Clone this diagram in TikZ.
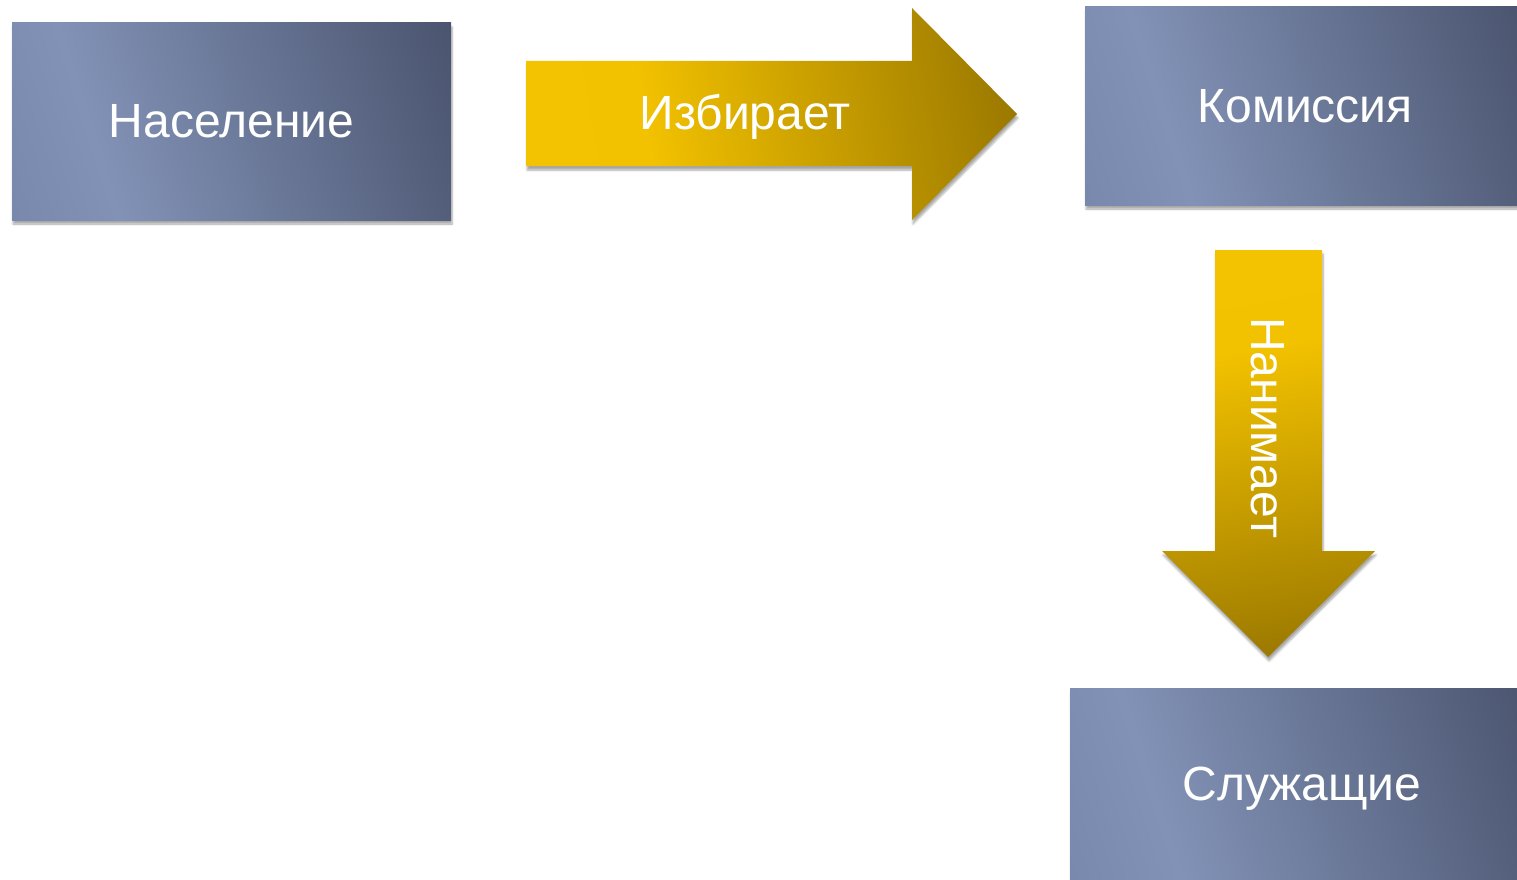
\documentclass[tikz,border=0pt]{standalone}
\usepackage{fontspec}
\setmainfont{Liberation Sans}
\usetikzlibrary{shadows.blur}
\definecolor{boxa}{HTML}{6C7CA0}
\definecolor{boxb}{HTML}{8292B6}
\definecolor{boxc}{HTML}{353D54}
\definecolor{arra}{HTML}{F5C500}
\definecolor{arrb}{HTML}{F2C100}
\definecolor{arrc}{HTML}{6A5000}
\pgfdeclarehorizontalshading{boxshade}{100bp}{color(0bp)=(boxa); color(32bp)=(boxb); color(100bp)=(boxc)}
\pgfdeclarehorizontalshading{arrshade}{100bp}{color(0bp)=(arra); color(36bp)=(arrb); color(100bp)=(arrc)}
\tikzset{
  shadowed/.style={blur shadow={shadow xshift=1pt, shadow yshift=-4pt, shadow blur steps=6, shadow opacity=35}},
  box/.style={rectangle, inner sep=0pt, text=white, font=\fontsize{48}{56}\selectfont,
    shading=boxshade, shading angle=18, shadowed},
  harrow/.style={shading=arrshade, shading angle=10, shadowed},
  varrow/.style={shading=arrshade, shading angle=-80, shadowed},
  lbl/.style={inner sep=0pt, text=white, font=\fontsize{48}{56}\selectfont}
}
\begin{document}
\begin{tikzpicture}[x=1pt,y=-1pt]
\useasboundingbox (0,0) rectangle (1517,880);
\clip (0,0) rectangle (1517,880);
% boxes
\node[box, minimum width=439pt, minimum height=197pt] (pop) at (231.5,121.5) {Население};
\node[box, minimum width=440pt, minimum height=198pt] (kom) at (1305,106) {Комиссия};
\node[box, minimum width=464pt, minimum height=196pt] (slu) at (1302,786) {};
\node[lbl] (slut) at (1302,789) {Служащие};
% right arrow
\path[harrow] (526,61) -- (912,61) -- (912,8) -- (1017,114) -- (912,220) -- (912,166) -- (526,166) -- cycle;
\node[lbl] (izb) at (745,117) {Избирает};
% down arrow
\path[varrow] (1215,250) -- (1322,250) -- (1322,551) -- (1375,551) -- (1268,657) -- (1162,551) -- (1215,551) -- cycle;
\node[lbl, rotate=-90] (nan) at (1268,428) {Нанимает};
\end{tikzpicture}
\end{document}
